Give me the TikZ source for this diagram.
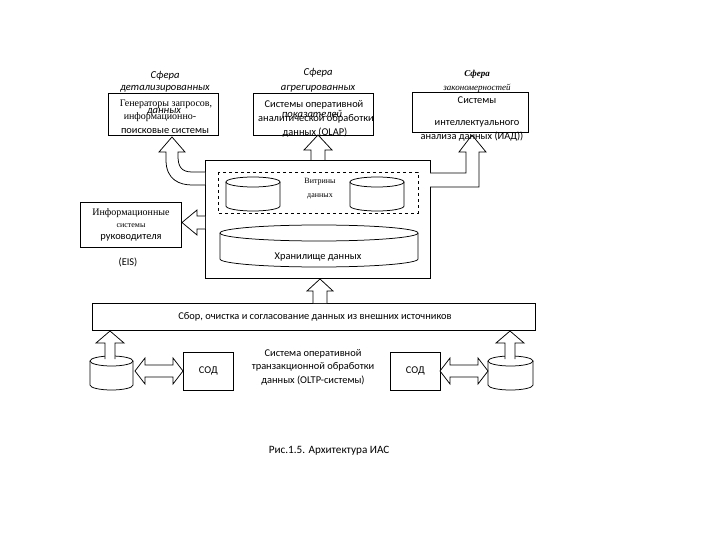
\documentclass[tikz,border=0pt]{standalone}
\usepackage{fontspec}
\setmainfont{Carlito}
\newfontfamily\tnr{Liberation Serif}
\usetikzlibrary{positioning}
\tikzset{
  ln/.style={draw=black, line width=0.75pt, line join=miter},
  box/.style={ln, fill=white, inner sep=0pt, anchor=north west},
  txt/.style={inner sep=0pt, font=\fontsize{10.4}{12}\selectfont},
  ttl/.style={inner sep=0pt, font=\fontsize{10.6}{12}\selectfont\itshape},
  ser/.style={inner sep=0pt, font=\fontsize{10}{12}\selectfont\tnr},
  sers/.style={inner sep=0pt, font=\fontsize{8}{10}\selectfont\tnr},
}
\newcommand\mycyl[5]{%
  \draw[ln, fill=white] (#1,{#2+#5}) -- (#1,{#4-#5}) arc[start angle=180,end angle=0,x radius={(#3-#1)/2},y radius=#5] -- (#3,{#2+#5});
  \draw[ln] ({(#1+#3)/2},{#2+#5}) ellipse[x radius={(#3-#1)/2}, y radius=#5];
}
\newcommand\uparr[6]{% cx, tip y, head base y, bottom y, shaft half width, head half width
  \draw[ln, fill=white] ({#1-#5},#4) -- ({#1-#5},#3) -- ({#1-#6},#3) -- (#1,#2) -- ({#1+#6},#3) -- ({#1+#5},#3) -- ({#1+#5},#4);
}
\newcommand\dblarr[3]{% left x, right x, cy
  \draw[ln, fill=white] (#1,#3) -- ({#1+10},{#3-13}) -- ({#1+10},{#3-6}) -- ({#2-10},{#3-6}) -- ({#2-10},{#3-13}) -- (#2,#3)
    -- ({#2-10},{#3+13}) -- ({#2-10},{#3+6}) -- ({#1+10},{#3+6}) -- ({#1+10},{#3+13}) -- cycle;
}
\begin{document}
\begin{tikzpicture}[x=1pt, y=-1pt]
\useasboundingbox (0,0) rectangle (720,540);
\fill[white] (0,0) rectangle (720,540);

% top boxes
\node[box, minimum width=110pt, minimum height=42pt] (b1) at (108,93) {};
\node[box, minimum width=120pt, minimum height=42pt] (b2) at (253,93) {};
\node[box, minimum width=116pt, minimum height=40pt] (b3) at (412,92) {};

% main box
\node[box, minimum width=225pt, minimum height=118pt] (main) at (205,160) {};
\draw[ln, dashed, line width=0.7pt] (218,172) rectangle (418,213);
\mycyl{226}{177}{280}{211}{5}
\mycyl{350}{177}{404}{211}{5}
\mycyl{220}{225}{418}{267}{8}

% EIS box
\node[box, minimum width=101pt, minimum height=45pt] (eis) at (80,202) {};

% collection bar
\node[box, minimum width=443pt, minimum height=27pt] (bar) at (92,303) {};

% SOD boxes
\node[box, minimum width=50pt, minimum height=38pt] (sod1) at (183,352) {};
\node[box, minimum width=50pt, minimum height=38pt] (sod2) at (390,352) {};

% bottom cylinders
\mycyl{90}{356}{133}{390}{5}
\mycyl{488}{356}{533}{390}{5}

% block arrows
\uparr{318}{135}{150}{160}{7}{14}
\uparr{320}{279}{291}{303}{7}{13}
\uparr{110}{331}{343}{359}{5}{14}
\uparr{510}{331}{343}{359}{5}{14}
\dblarr{135}{183}{371}
\dblarr{440}{488}{371}

% curved left arrow
\draw[ln, fill=white] (205,172) -- (192,172) .. controls (181,172) and (178,166) .. (178,156) -- (178,152) -- (185,152) -- (172,137) -- (159,152) -- (166,152) -- (166,160) .. controls (166,180) and (180,185) .. (192,185) -- (205,185);
% right arrow
\draw[ln, fill=white] (430,173) -- (466,173) -- (466,152) -- (459,152) -- (472,135) -- (486,152) -- (479,152) -- (479,187) -- (430,187);
% EIS arrow
\draw[ln, fill=white] (205,216) -- (197,216) -- (197,210) -- (182,222.5) -- (197,235) -- (197,229) -- (205,229);

% texts: box 1
\node[ttl] (t1a) at (165,76) {Сфера};
\node[ttl] (t1b) at (165,89) {детализированных};
\node[ser] (t1c) at (166,104) {Генераторы запросов,};
\node[ttl] (t1d) at (164,112) {данных};
\node[ser] (t1e) at (160,117) {информационно-};
\node[txt] (t1f) at (165,131) {поисковые системы};

% box 2
\node[ttl] (t2a) at (318,73) {Сфера};
\node[ttl] (t2b) at (318,89) {агрегированных};
\node[txt] (t2c) at (314,105) {Системы оперативной};
\node[ttl] (t2d) at (312,114) {показателей};
\node[txt] (t2e) at (316,119) {аналитической обработки};
\node[txt] (t2f) at (315,133) {данных (OLAP)};

% box 3
\node[ttl, font=\fontsize{9}{11}\selectfont\itshape\tnr\bfseries] (t3a) at (477,74) {Сфера};
\node[ttl, font=\fontsize{9}{11}\selectfont\itshape\tnr] (t3b) at (477,88) {закономерностей};
\node[txt] (t3c) at (477,100) {Системы};
\node[txt] (t3d) at (477,124) {интеллектуального};
\node[txt] (t3e) at (472,137) {анализа данных (ИАД))};

% main box texts
\node[sers] (tv1) at (320,182) {Витрины};
\node[sers] (tv2) at (320,196) {данных};
\node[txt] (th) at (318,257) {Хранилище данных};

% EIS texts
\node[ser] (te1) at (131,213) {Информационные};
\node[sers] (te2) at (131,226) {системы};
\node[txt] (te3) at (131,238) {руководителя};
\node[txt] (te4) at (128,262) {(EIS)};

% bar text
\node[txt] (tb) at (315,317) {Сбор, очистка и согласование данных из внешних источников};

% bottom
\node[txt] at (sod1.center) (ts1) {СОД};
\node[txt] at (sod2.center) (ts2) {СОД};
\node[txt, align=center, font=\fontsize{10.4}{13.5}\selectfont] (toltp) at (313,367) {Система оперативной\\транзакционной обработки\\данных (OLTP-системы)};

\node[txt, font=\fontsize{11.2}{13}\selectfont] (cap) at (329,451) {Рис.1.5. Архитектура ИАС};
\end{tikzpicture}
\end{document}
